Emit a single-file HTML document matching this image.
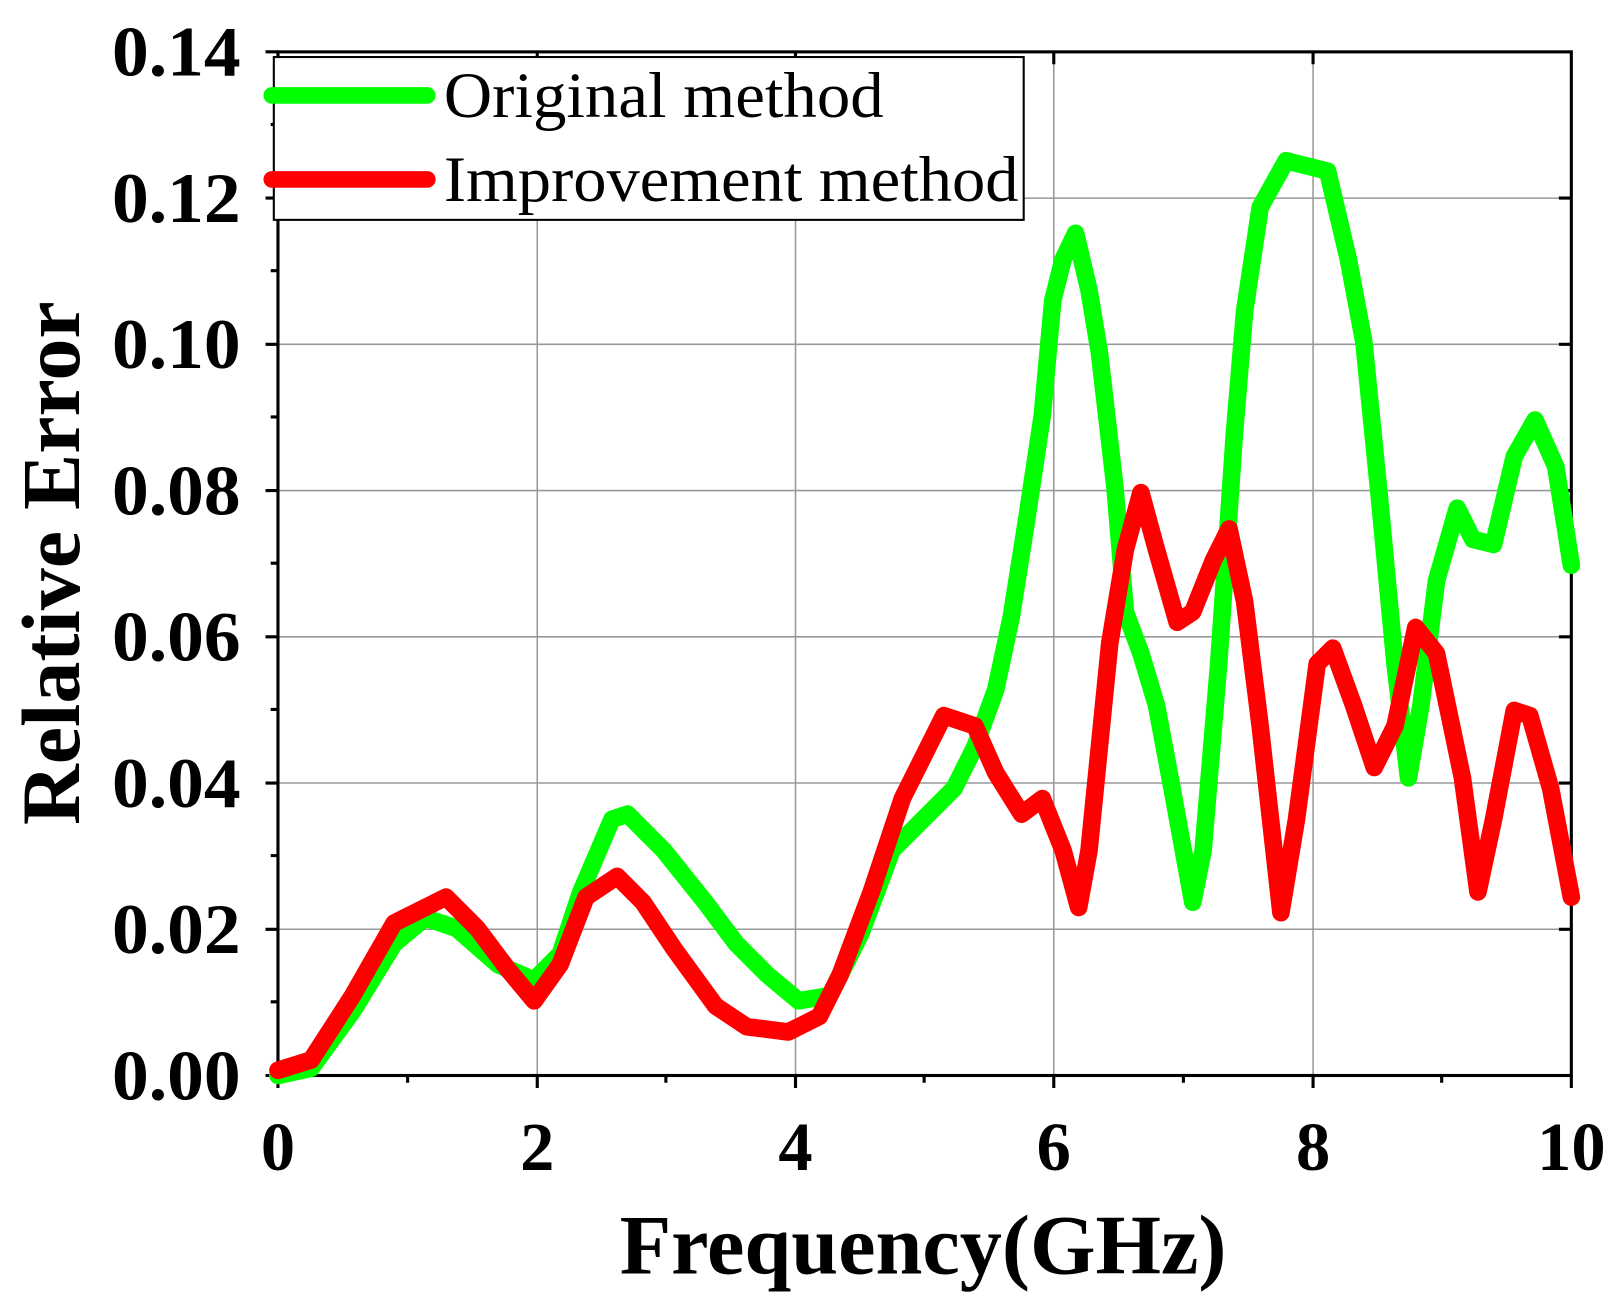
<!DOCTYPE html>
<html><head><meta charset="utf-8"><style>html,body{margin:0;padding:0;background:#fff}svg{display:block}</style></head>
<body>
<svg width="1618" height="1299" viewBox="0 0 1560 1252.5" preserveAspectRatio="none" xmlns="http://www.w3.org/2000/svg" font-family="Liberation Serif, serif" font-weight="bold">
<rect width="1560" height="1253" fill="#fff"/>
<g stroke="#999" stroke-width="1.5">
<line x1="518" y1="50" x2="518" y2="1037"/><line x1="767" y1="50" x2="767" y2="1037"/><line x1="1016" y1="50" x2="1016" y2="1037"/><line x1="1266" y1="50" x2="1266" y2="1037"/>
<line x1="268" y1="896" x2="1515" y2="896"/><line x1="268" y1="755" x2="1515" y2="755"/><line x1="268" y1="614" x2="1515" y2="614"/><line x1="268" y1="473" x2="1515" y2="473"/><line x1="268" y1="332" x2="1515" y2="332"/><line x1="268" y1="191" x2="1515" y2="191"/>
</g>
<g stroke="#000" stroke-width="3" fill="none">
<rect x="268" y="50" width="1247" height="987"/>
<path d="M268 1037v12M518 1037v12M767 1037v12M1016 1037v12M1266 1037v12M1515 1037v12M393 1037v7M642 1037v7M891 1037v7M1141 1037v7M1390 1037v7"/>
<path d="M268 1037h-12M268 896h-12M268 755h-12M268 614h-12M268 473h-12M268 332h-12M268 191h-12M268 50h-12M268 966h-7M268 825h-7M268 684h-7M268 543h-7M268 402h-7M268 261h-7M268 120h-7"/>
<path d="M1515 896h-12M1515 755h-12M1515 614h-12M1515 473h-12M1515 332h-12M1515 191h-12M518 50v12M767 50v12M1016 50v12M1266 50v12"/>
</g>
<g font-size="68" text-anchor="end">
<text x="232" y="1060" textLength="124" lengthAdjust="spacingAndGlyphs">0.00</text><text x="232" y="919" textLength="124" lengthAdjust="spacingAndGlyphs">0.02</text><text x="232" y="778" textLength="124" lengthAdjust="spacingAndGlyphs">0.04</text><text x="232" y="637" textLength="124" lengthAdjust="spacingAndGlyphs">0.06</text><text x="232" y="496" textLength="124" lengthAdjust="spacingAndGlyphs">0.08</text><text x="232" y="355" textLength="124" lengthAdjust="spacingAndGlyphs">0.10</text><text x="232" y="214" textLength="124" lengthAdjust="spacingAndGlyphs">0.12</text><text x="232" y="73" textLength="124" lengthAdjust="spacingAndGlyphs">0.14</text>
</g>
<g font-size="66" text-anchor="middle">
<text x="268" y="1128">0</text><text x="518" y="1128">2</text><text x="767" y="1128">4</text><text x="1016" y="1128">6</text><text x="1266" y="1128">8</text><text x="1515" y="1128">10</text>
</g>
<text x="890" y="1228" font-size="82" text-anchor="middle" textLength="585" lengthAdjust="spacingAndGlyphs">Frequency(GHz)</text>
<text transform="translate(76,543) rotate(-90)" font-size="80" text-anchor="middle" textLength="505" lengthAdjust="spacingAndGlyphs">Relative Error</text>
<g fill="none" stroke-width="17" stroke-linejoin="round" stroke-linecap="round">
<polyline stroke="#00ff00" points="268,1037 300,1030 340,975 380,910 410,885 440,895 480,930 515,945 540,920 560,860 590,790 605,785 640,820 680,870 710,910 740,940 770,965 800,960 830,900 860,820 900,780 920,760 940,720 960,665 975,595 990,500 1005,400 1015,290 1025,250 1037,225 1050,280 1060,340 1075,470 1085,590 1100,630 1115,680 1130,760 1150,870 1160,820 1175,640 1190,420 1200,300 1215,200 1240,155 1280,165 1300,250 1315,330 1330,480 1345,640 1358,750 1370,680 1385,560 1405,490 1420,520 1440,525 1460,440 1480,405 1500,450 1515,545"/>
<polyline stroke="#ff0000" points="268,1032 300,1022 340,960 380,890 430,865 460,895 490,935 515,965 540,930 565,865 595,845 620,870 650,915 690,970 720,990 760,995 790,980 810,940 840,860 870,770 910,690 940,700 960,745 985,785 1005,770 1025,820 1040,875 1050,820 1070,620 1085,530 1100,475 1115,530 1135,600 1150,590 1170,540 1185,510 1200,580 1215,700 1235,880 1250,790 1270,640 1285,625 1305,680 1325,740 1345,700 1365,605 1385,630 1410,750 1425,860 1440,790 1460,685 1475,690 1495,760 1515,865"/>
</g>
<rect x="264" y="55" width="723" height="157" fill="#fff" stroke="#000" stroke-width="2"/>
<line x1="262" y1="92" x2="412" y2="92" stroke="#00ff00" stroke-width="16" stroke-linecap="round"/>
<line x1="262" y1="173" x2="412" y2="173" stroke="#ff0000" stroke-width="16" stroke-linecap="round"/>
<g font-size="62" font-weight="normal">
<text x="428" y="113" textLength="424" lengthAdjust="spacingAndGlyphs">Original method</text>
<text x="428" y="194" textLength="554" lengthAdjust="spacingAndGlyphs">Improvement method</text>
</g>
</svg>
</body></html>
